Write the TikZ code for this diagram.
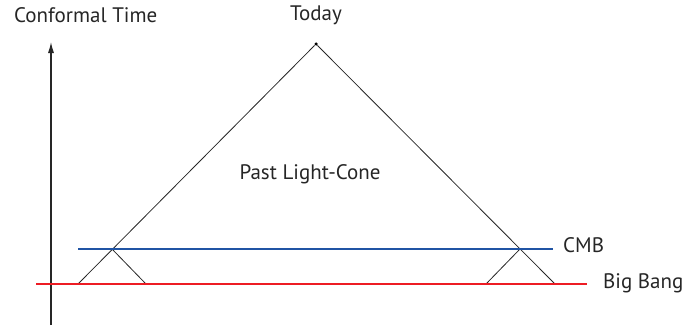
\documentclass[tikz,border=0pt]{standalone}
\usepackage{fontspec}
\setmainfont{PT Sans}
\usetikzlibrary{arrows.meta}
\definecolor{bbred}{RGB}{237,28,36}
\definecolor{cmbblue}{RGB}{32,84,164}
\begin{document}
\begin{tikzpicture}[
			x=1pt, y=-1pt,
			dot/.style={circle, fill=black, inner sep=0pt, minimum size=3.5pt},
			lbl/.style={font=\fontsize{21}{24}\selectfont, text=black!85, inner sep=0pt},
			cone/.style={draw=black!85, line width=0.8pt},
			>={Latex[length=11pt,width=6pt]}
			]
			\useasboundingbox (0,0) rectangle (693,335);
			% --- ось времени ---
			\coordinate (t0) at (51,325);
			\coordinate (t1) at (51,42);
			\draw[line width=1.1pt, black!85, ->] (t0)--(t1);
			\node[lbl, anchor=west] (ctime) at (14,15) {Conformal Time};
			% --- конус ---
			\node[dot] (today) at (316,44) {};
			\node[lbl] (ltoday) at (316,15) {Today};
			\coordinate (l0) at (78,284);
			\coordinate (r0) at (555,284);
			\coordinate (lc) at (112,249);
			\coordinate (rc) at (520,249);
			\coordinate (l1) at (146,284);
			\coordinate (r1) at (486,284);
			\draw[cone] (l0)--(today)--(r0);
			\draw[cone] (lc)--(l1);
			\draw[cone] (rc)--(r1);
			\node[lbl] (plc) at (310,174) {Past Light-Cone};
			% --- линии CMB и Big Bang ---
			\coordinate (c0) at (78,249);
			\coordinate (c1) at (553,249);
			\draw[cmbblue, line width=1.6pt] (c0)--(c1);
			\node[lbl, anchor=west] (lcmb) at (563,245) {CMB};
			\coordinate (b0) at (36,284);
			\coordinate (b1) at (587,284);
			\draw[bbred, line width=1.6pt] (b0)--(b1);
			\node[lbl, anchor=west] (lbb) at (603,283) {Big Bang};
		\end{tikzpicture}
\end{document}
